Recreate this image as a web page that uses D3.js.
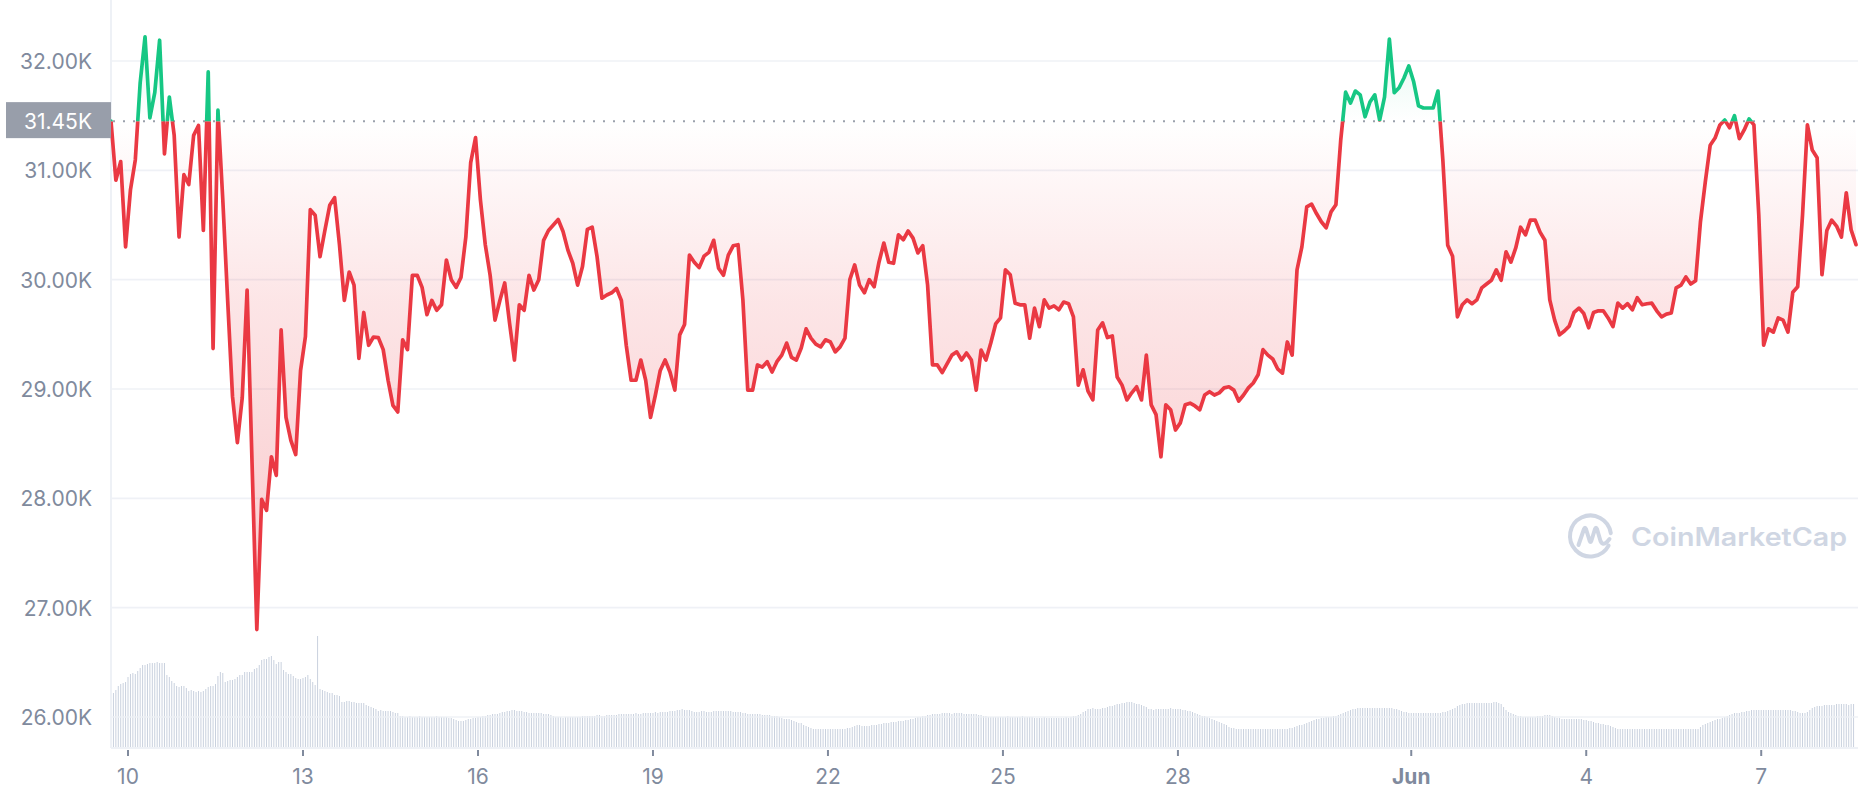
<!DOCTYPE html>
<html><head><meta charset="utf-8">
<script src="https://cdn.jsdelivr.net/npm/d3@7/dist/d3.min.js"></script>
<style>
html,body{margin:0;padding:0;background:#fff;}
svg{display:block;font-family:Inter,"Noto Sans",sans-serif;}
</style></head><body>
<svg id="chart" width="1858" height="800"></svg>
<script>
// ---------------- DATA ----------------
// BTC price, one reading every 2 hours, starting 2022-05-09 17:00 UTC
const priceStart = Date.UTC(2022, 4, 9, 17);
const priceStepHours = 2;
const prices = [
31450,30910,31080,30300,30820,31095,31800,32220,31480,31710,
32190,31150,31670,31320,30390,30960,30870,31320,31410,30450,
31900,29370,31550,30730,29810,28930,28510,28920,29905,28350,
26800,27990,27890,28380,28210,29540,28740,28530,28400,29170,
29480,30640,30590,30210,30450,30680,30750,30320,29810,30070,
29950,29280,29700,29400,29475,29470,29360,29080,28850,28790,
29450,29360,30040,30040,29930,29680,29810,29720,29770,30180,
30000,29930,30020,30390,31070,31300,30730,30320,30040,29630,
29810,29970,29600,29265,29770,29720,30040,29905,30000,30360,
30450,30500,30550,30440,30270,30150,29950,30120,30460,30480,
30210,29830,29860,29880,29920,29810,29400,29080,29080,29265,
29080,28740,28945,29170,29265,29155,28990,29495,29590,30225,
30160,30110,30215,30250,30360,30105,30040,30225,30310,30320,
29815,28990,28990,29220,29200,29250,29155,29250,29310,29420,
29290,29265,29375,29550,29465,29410,29385,29450,29430,29340,
29385,29465,30000,30135,29950,29880,30000,29935,30160,30335,
30160,30150,30410,30365,30445,30380,30245,30310,29950,29220,
29220,29150,29230,29310,29340,29265,29330,29265,28990,29355,
29265,29420,29595,29650,30090,30045,29785,29770,29770,29465,
29740,29570,29815,29740,29760,29725,29795,29780,29660,29035,
29175,28980,28900,29540,29605,29470,29485,29110,29035,28900,
28965,29020,28900,29310,28855,28765,28380,28855,28810,28625,
28690,28855,28870,28845,28810,28945,28975,28945,28965,29010,
29020,28990,28890,28945,29010,29055,29130,29360,29310,29275,
29185,29145,29430,29310,30090,30300,30665,30690,30605,30530,
30475,30620,30685,31280,31715,31615,31725,31690,31490,31625,
31690,31460,31670,32200,31710,31755,31845,31955,31810,31590,
31570,31570,31570,31725,31095,30315,30215,29660,29770,29815,
29780,29815,29925,29960,29995,30090,29995,30255,30160,30290,
30480,30410,30545,30545,30435,30360,29815,29630,29495,29530,
29575,29700,29740,29690,29560,29700,29715,29715,29650,29570,
29785,29740,29780,29725,29835,29770,29780,29785,29715,29660,
29685,29695,29925,29950,30025,29960,29990,30530,30895,31230,
31295,31415,31460,31390,31500,31290,31370,31470,31415,30590,
29400,29550,29520,29650,29630,29520,29885,29935,30590,31415,
31185,31115,30045,30450,30545,30490,30390,30795,30455,30320
];

// 24h volume bars (billions USD, relative reading), hourly from 2022-05-09 18:00 UTC
const volumeStart = Date.UTC(2022, 4, 9, 18);
const volumeStepHours = 1;
const volumes = [
54,57,61,63,64,65,70,73,74,73,76,79,82,82,83,84,84,84,85,84,
84,84,72,70,66,64,61,60,61,61,59,56,57,56,55,56,55,56,58,60,
61,61,63,71,75,74,65,66,67,67,68,70,72,72,75,75,75,75,78,79,
82,87,88,88,90,91,87,83,85,85,77,75,73,73,71,69,68,68,69,70,
72,68,65,62,111,58,57,56,55,54,54,52,52,51,45,45,46,46,45,45,
44,44,44,44,42,41,40,39,38,36,37,36,36,36,36,35,34,34,31,31,
30,30,31,30,30,30,31,30,30,30,30,30,30,31,30,30,30,30,29,
29,28,27,26,26,26,27,28,28,29,29,
30,30,31,31,32,32,33,33,33,34,35,35,
36,36,37,37,36,36,36,
35,35,34,34,34,34,34,34,33,33,33,32,
31,30,30,30,29,30,30,30,30,30,
30,30,31,31,31,31,31,31,32,32,31,31,32,32,32,32,32,33,
33,33,33,33,33,33,34,33,33,34,34,
34,34,34,35,34,35,35,35,35,36,36,36,
37,37,38,37,37,37,
36,35,35,35,36,36,35,35,35,36,36,36,36,36,36,36,36,35,35,35,35,34,
34,33,33,33,33,33,33,32,32,32,32,31,31,31,30,29,
28,28,28,27,26,25,24,24,
22,21,20,
19,18,18,18,18,18,18,18,18,18,18,18,18,18,18,19,19,20,
21,22,22,21,21,21,21,22,22,22,23,
23,24,24,24,25,25,25,26,26,26,27,27,28,28,29,
30,30,31,31,32,32,33,33,
33,33,34,34,34,34,33,34,34,34,34,33,33,33,33,33,33,32,32,
31,31,30,30,30,30,30,
30,30,30,31,30,30,30,30,30,31,30,30,30,30,
29,29,29,29,30,29,29,29,29,29,29,29,29,30,29,30,31,31,
32,33,35,36,38,
38,39,38,38,38,39,39,40,41,41,42,43,
43,44,44,45,45,45,44,43,43,42,41,40,
38,38,37,38,38,
38,38,38,38,39,38,38,38,38,37,37,36,36,
35,34,33,32,31,31,30,29,28,
27,26,25,24,23,22,20,
19,19,18,18,18,18,18,18,18,18,18,18,18,18,18,18,18,18,18,18,18,18,18,18,19,19,20,
21,22,22,23,
24,25,26,27,28,28,29,29,30,
30,30,31,31,32,33,
34,35,36,37,38,38,39,39,39,39,39,39,39,39,39,39,39,39,39,39,39,38,38,37,
36,35,35,34,34,34,34,34,34,34,34,34,34,34,34,34,34,35,35,36,
37,38,39,41,42,
43,43,44,44,44,44,44,44,44,44,44,44,44,45,45,44,43,
40,37,35,34,33,
32,31,31,30,30,30,30,30,30,31,31,31,32,
32,32,31,30,29,
29,28,28,28,28,28,28,28,28,28,27,27,26,26,25,24,
24,23,23,22,22,21,20,19,18,
18,18,18,18,18,18,18,18,18,18,18,18,18,18,18,18,18,18,18,18,18,18,18,18,18,18,18,18,18,18,18,18,18,
20,22,23,24,25,
26,27,28,28,29,30,31,32,33,
34,34,34,35,35,36,36,37,37,
37,37,37,37,37,37,37,37,37,37,37,37,37,37,37,36,36,35,
34,34,34,35,37,
39,40,41,41,41,42,42,42,42,42,43,43,43,43,43,42,43,43
];

const yTickValues = [26000, 27000, 28000, 29000, 30000, 31000, 32000];
const yTickLabels = ["26.00K", "27.00K", "28.00K", "29.00K", "30.00K", "31.00K", "32.00K"];
const xTickDates = [
  Date.UTC(2022,4,10), Date.UTC(2022,4,13), Date.UTC(2022,4,16), Date.UTC(2022,4,19),
  Date.UTC(2022,4,22), Date.UTC(2022,4,25), Date.UTC(2022,4,28), Date.UTC(2022,5,1),
  Date.UTC(2022,5,4), Date.UTC(2022,5,7)
];
const xTickLabels = ["10", "13", "16", "19", "22", "25", "28", "Jun", "4", "7"];
const openPrice = 31450;
const openLabel = "31.45K";

// ---------------- CHART ----------------
const HOUR = 3600e3;
const svg = d3.select("#chart");
const W = 1858, H = 800;
const plotLeft = 111, plotRight = 1858, plotBottom = 748;

const priceData = prices.map((v, i) => ({ t: new Date(priceStart + i * priceStepHours * HOUR), v }));
const volData = volumes.map((v, i) => ({ t: new Date(volumeStart + i * volumeStepHours * HOUR), v }));

const x = d3.scaleUtc()
  .domain([priceData[0].t, priceData[priceData.length - 1].t])
  .range([111, 1856]);
const y = d3.scaleLinear().domain([26000, 32000]).range([717, 61]);
const yVol = d3.scaleLinear().domain([0, d3.max(volumes)]).range([747, 636]);
const base = y(openPrice);

const defs = svg.append("defs");
const rg = defs.append("linearGradient").attr("id", "redGrad")
  .attr("gradientUnits", "userSpaceOnUse").attr("x1", 0).attr("x2", 0).attr("y1", base).attr("y2", 640);
[[0, 0], [0.345, 0.13], [0.634, 0.2], [1, 0.27]].forEach(([o, a]) =>
  rg.append("stop").attr("offset", o).attr("stop-color", "#EA3943").attr("stop-opacity", a));
const gg = defs.append("linearGradient").attr("id", "greenGrad")
  .attr("gradientUnits", "userSpaceOnUse").attr("x1", 0).attr("x2", 0).attr("y1", base).attr("y2", 35);
[[0, 0], [1, 0.13]].forEach(([o, a]) =>
  gg.append("stop").attr("offset", o).attr("stop-color", "#16C784").attr("stop-opacity", a));
defs.append("clipPath").attr("id", "clipAbove").append("rect")
  .attr("x", 0).attr("y", 0).attr("width", W).attr("height", base);
defs.append("clipPath").attr("id", "clipBelow").append("rect")
  .attr("x", 0).attr("y", base).attr("width", W).attr("height", H - base);

// volume bars
svg.append("g").selectAll("line").data(volData).join("line")
  .attr("x1", d => x(d.t)).attr("x2", d => x(d.t))
  .attr("y1", yVol(0)).attr("y2", d => yVol(d.v))
  .attr("stroke", "#C9D1DE").attr("stroke-width", 1);

// grid
svg.append("g").selectAll("line").data(yTickValues).join("line")
  .attr("x1", plotLeft).attr("x2", plotRight)
  .attr("y1", d => y(d)).attr("y2", d => y(d))
  .attr("stroke", "#EDF0F5").attr("stroke-width", 1.6).attr("stroke-opacity", 0.9);

// axes lines
svg.append("line").attr("x1", plotLeft).attr("x2", plotLeft).attr("y1", 0).attr("y2", plotBottom)
  .attr("stroke", "#EEF1F6").attr("stroke-width", 2);
svg.append("line").attr("x1", plotLeft).attr("x2", plotRight).attr("y1", plotBottom).attr("y2", plotBottom)
  .attr("stroke", "#EEF1F6").attr("stroke-width", 2);

// watermark
const wm = svg.append("g").attr("transform", "translate(1590.5,536)");
const r = 20.5;
const a0 = -8 * Math.PI / 180, a1 = 28 * Math.PI / 180;
wm.append("path")
  .attr("d", `M ${r*Math.cos(a0)} ${r*Math.sin(a0)} A ${r} ${r} 0 1 0 ${r*Math.cos(a1)} ${r*Math.sin(a1)}`)
  .attr("fill", "none").attr("stroke", "#CFD6E3").attr("stroke-width", 4).attr("stroke-linecap", "round");
wm.append("path")
  .attr("d", "M -12 9 L -6.5 -7 Q -5.5 -9.5 -4.5 -7 L -0.8 5 Q 0 7 0.8 5 L 4.5 -7 Q 5.5 -9.5 6.5 -7 L 10 5 Q 12 10 16.5 6 L 19 3")
  .attr("fill", "none").attr("stroke", "#CFD6E3").attr("stroke-width", 4)
  .attr("stroke-linecap", "round").attr("stroke-linejoin", "round");
svg.append("text").attr("x", 1631).attr("y", 546)
  .attr("font-size", 25).attr("font-weight", 600).attr("fill", "#CFD6E3")
  .attr("textLength", 216).attr("lengthAdjust", "spacingAndGlyphs")
  .text("CoinMarketCap");

// fills
const area = d3.area().x(d => x(d.t)).y0(base).y1(d => y(d.v));
svg.append("path").datum(priceData).attr("d", area)
  .attr("fill", "url(#redGrad)").attr("clip-path", "url(#clipBelow)");
svg.append("path").datum(priceData).attr("d", area)
  .attr("fill", "url(#greenGrad)").attr("clip-path", "url(#clipAbove)");

// dotted open line
svg.append("line").attr("x1", plotLeft + 2).attr("x2", plotRight).attr("y1", base).attr("y2", base)
  .attr("stroke", "#9BA1AC").attr("stroke-width", 2).attr("stroke-dasharray", "2,8");

// price line
const line = d3.line().x(d => x(d.t)).y(d => y(d.v));
svg.append("path").datum(priceData).attr("d", line)
  .attr("fill", "none").attr("stroke", "#EA3943").attr("stroke-width", 3.7)
  .attr("stroke-linejoin", "round").attr("stroke-linecap", "round")
  .attr("clip-path", "url(#clipBelow)");
svg.append("path").datum(priceData).attr("d", line)
  .attr("fill", "none").attr("stroke", "#16C784").attr("stroke-width", 3.7)
  .attr("stroke-linejoin", "round").attr("stroke-linecap", "round")
  .attr("clip-path", "url(#clipAbove)");

// y labels
svg.append("g").selectAll("text").data(yTickValues).join("text")
  .attr("x", 92).attr("y", d => y(d) + 8)
  .attr("text-anchor", "end").attr("font-size", 21).attr("fill", "#808A9D")
  .text((d, i) => yTickLabels[i]);

// open price label
svg.append("rect").attr("x", 6).attr("y", base - 19).attr("width", plotLeft - 6).attr("height", 36)
  .attr("fill", "#989EAA");
svg.append("text").attr("x", 92).attr("y", base + 7.5)
  .attr("text-anchor", "end").attr("font-size", 21).attr("fill", "#FFFFFF").text(openLabel);

// x ticks + labels
const xt = svg.append("g").selectAll("g").data(xTickDates).join("g")
  .attr("transform", d => `translate(${x(new Date(d))},0)`);
xt.append("line").attr("y1", plotBottom + 2).attr("y2", plotBottom + 8)
  .attr("stroke", "#808A9D").attr("stroke-width", 2);
xt.append("text").attr("y", 784).attr("text-anchor", "middle")
  .attr("font-size", 21).attr("fill", "#808A9D")
  .attr("font-weight", (d, i) => xTickLabels[i] === "Jun" ? 700 : 400)
  .text((d, i) => xTickLabels[i]);
</script>
</body></html>
